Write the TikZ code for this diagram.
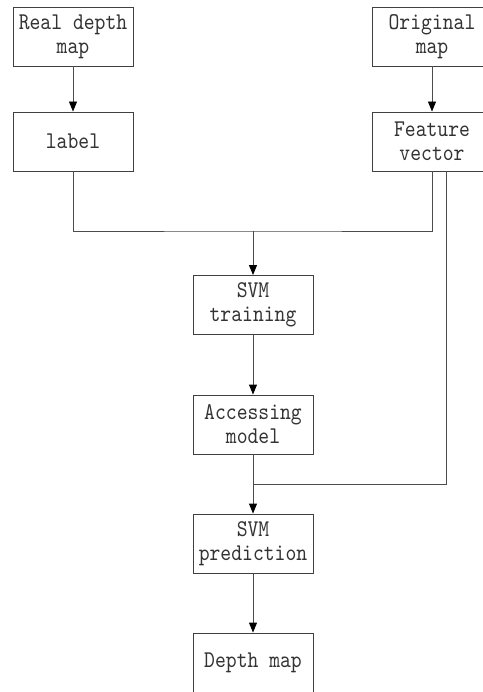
\documentclass[tikz,border=0pt]{standalone}
\usepackage{fontspec}
\newfontfamily\boxfont{lmmono10-regular.otf}[FakeStretch=0.86]
\usetikzlibrary{arrows.meta}
\tikzset{
  box/.style={draw=black!75, line width=0.9pt, minimum width=120pt, minimum height=59pt,
    inner sep=0pt, align=center, text=black!80, font=\boxfont\fontsize{24}{24}\selectfont},
  link/.style={draw=black!70, line width=0.9pt},
  flow/.style={link, -{Triangle[width=8pt,length=10pt,color=black]}}
}
\begin{document}
\begin{tikzpicture}[x=1pt,y=-1pt]
\useasboundingbox (0,0) rectangle (482,692);
% input boxes
\node[box] (rdm) at (73,36.5) {Real depth\\map};
\node[box] (lab) at (73,141.5) {label};
\node[box] (om) at (432,36.5) {Original\\map};
\node[box] (fv) at (432,141.5) {Feature\\vector};
% main column
\node[box] (svmt) at (253,305) {SVM\\training};
\node[box] (acc) at (253,424.5) {Accessing\\model};
\node[box] (svmp) at (253,543.5) {SVM\\prediction};
\node[box] (dm) at (253,662.5) {Depth map};
% junction points
\coordinate (j1) at (253,231);
\coordinate (j2) at (253,484);
\coordinate (fvr) at ([xshift=14pt]fv.south);
% connectors
\draw[flow] (rdm.south) -- (lab.north);
\draw[flow] (om.south) -- (fv.north);
\draw[link] (lab.south) |- (j1) -| (fv.south);
\draw[flow] (j1) -- (svmt.north);
\draw[flow] (svmt.south) -- (acc.north);
\draw[link] (fvr) |- (j2);
\draw[flow] (acc.south) -- (svmp.north);
\draw[flow] (svmp.south) -- (dm.north);
\end{tikzpicture}
\end{document}
